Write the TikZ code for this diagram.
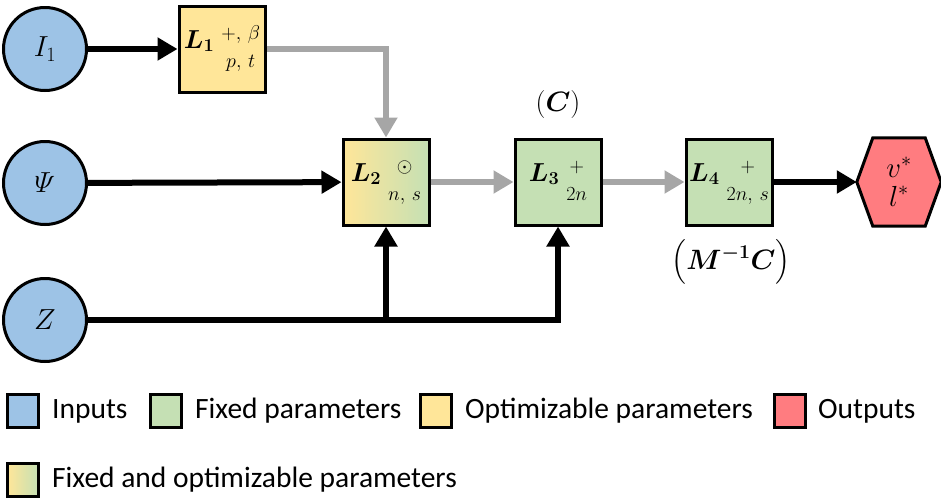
\RequirePackage{fix-cm}
\documentclass[tikz,border=0pt]{standalone}
\usepackage{amsmath,bm}
\usepackage{fontspec}
\newfontfamily\legfont{Carlito}
\usetikzlibrary{arrows.meta,calc,backgrounds}

\definecolor{inblue}{HTML}{9DC3E6}
\definecolor{fixgreen}{HTML}{C5E0B4}
\definecolor{optyellow}{HTML}{FFE699}
\definecolor{outred}{HTML}{FF7C80}
\definecolor{flowgray}{HTML}{A6A6A6}

% layer symbol with a centred stack of upper and lower indices
\newcommand{\lyr}[3]{$\bm{L_{#1}}$\hspace{7pt}\raisebox{-6pt}{\fontsize{20}{22}\selectfont
  $\begin{array}{@{}c@{}}#2\\[6pt]#3\end{array}$}}

\tikzset{
  inp/.style={circle,draw=black,line width=3pt,fill=inblue,minimum size=83pt,
    inner sep=0pt,font=\fontsize{29}{34}\selectfont},
  layer/.style={rectangle,draw=black,line width=3pt,minimum size=86pt,
    inner sep=0pt,font=\fontsize{26}{30}\selectfont},
  note/.style={inner sep=0pt,font=\fontsize{28}{32}\selectfont},
  blk/.style={line width=6pt,draw=black,-{Triangle[length=20pt,width=22pt]}},
  gry/.style={line width=6pt,draw=flowgray,-{Triangle[length=20pt,width=22pt,fill=flowgray]}},
  legsq/.style={rectangle,draw=black,line width=3pt,minimum width=31pt,
    minimum height=33pt,inner sep=0pt},
  legtxt/.style={anchor=west,inner sep=0pt,font=\legfont\fontsize{29.5}{34}\selectfont},
}

\begin{document}
\begin{tikzpicture}[x=1pt,y=-1pt]
\useasboundingbox (0,0) rectangle (941,501);

% inputs
\node[inp] (i1)  at (45,49)  {$I_1$};
\node[inp] (psi) at (45,183) {$\varPsi$};
\node[inp] (z)   at (45,320) {$Z$};

% layers
\node[layer,fill=optyellow] (l1) at (222,49) {\lyr{1}{+,\,\beta}{p,\,t}};
\node[layer,left color=optyellow,right color=fixgreen] (l2) at (386,182) {\lyr{2}{\odot}{n,\,s}};
\node[layer,fill=fixgreen] (l3) at (558,182) {\lyr{3}{+}{2n}};
\node[layer,fill=fixgreen] (l4) at (729,182) {\lyr{4}{+}{2n,\,s}};

% output
\node[minimum width=84pt,minimum height=88pt,inner sep=0pt,
  font=\fontsize{29}{33}\selectfont,align=center] (out) at (899,182)
  {$v^{*}$\\[-4pt]$l^{*}$};
\begin{scope}[on background layer]
\draw[fill=outred,line width=3pt,line join=miter]
  (out.west) -- ([xshift=16pt]out.north west) -- ([xshift=-16pt]out.north east)
  -- (out.east) -- ([xshift=-16pt]out.south east) -- ([xshift=16pt]out.south west)
  -- cycle;
\end{scope}

% annotations
\node[note] (cnote) at (558,104) {$(\bm{C})$};
\node[note] (mnote) at (731,262) {$\big(\bm{M}^{\bm{-1}}\bm{C}\big)$};

% connectors
\draw[blk] (i1) -- (l1);
\draw[blk] (psi) -- (l2);
\draw[gry] (l1.east) -| (l2.north);
\draw[gry] (l2) -- (l3);
\draw[gry] (l3) -- (l4);
\draw[blk] (l4) -- (out);
\coordinate (zj) at (l2.south |- z.east);
\draw[blk,line join=miter] (z.east) -| (l3.south);
\draw[blk] (zj) -- (l2.south);

% legend
\node[legsq,fill=inblue]    (k1) at (23,411)  {};
\node[legtxt] (t1) at (52,411) {Inputs};
\node[legsq,fill=fixgreen]  (k2) at (166,411) {};
\node[legtxt] (t2) at (195,411) {Fixed parameters};
\node[legsq,fill=optyellow] (k3) at (436,411) {};
\node[legtxt] (t3) at (465,411) {Optimizable parameters};
\node[legsq,fill=outred]    (k4) at (790,411) {};
\node[legtxt] (t4) at (818,411) {Outputs};
\node[legsq,left color=optyellow,right color=fixgreen] (k5) at (23,480) {};
\node[legtxt] (t5) at (52,480) {Fixed and optimizable parameters};
\end{tikzpicture}
\end{document}
